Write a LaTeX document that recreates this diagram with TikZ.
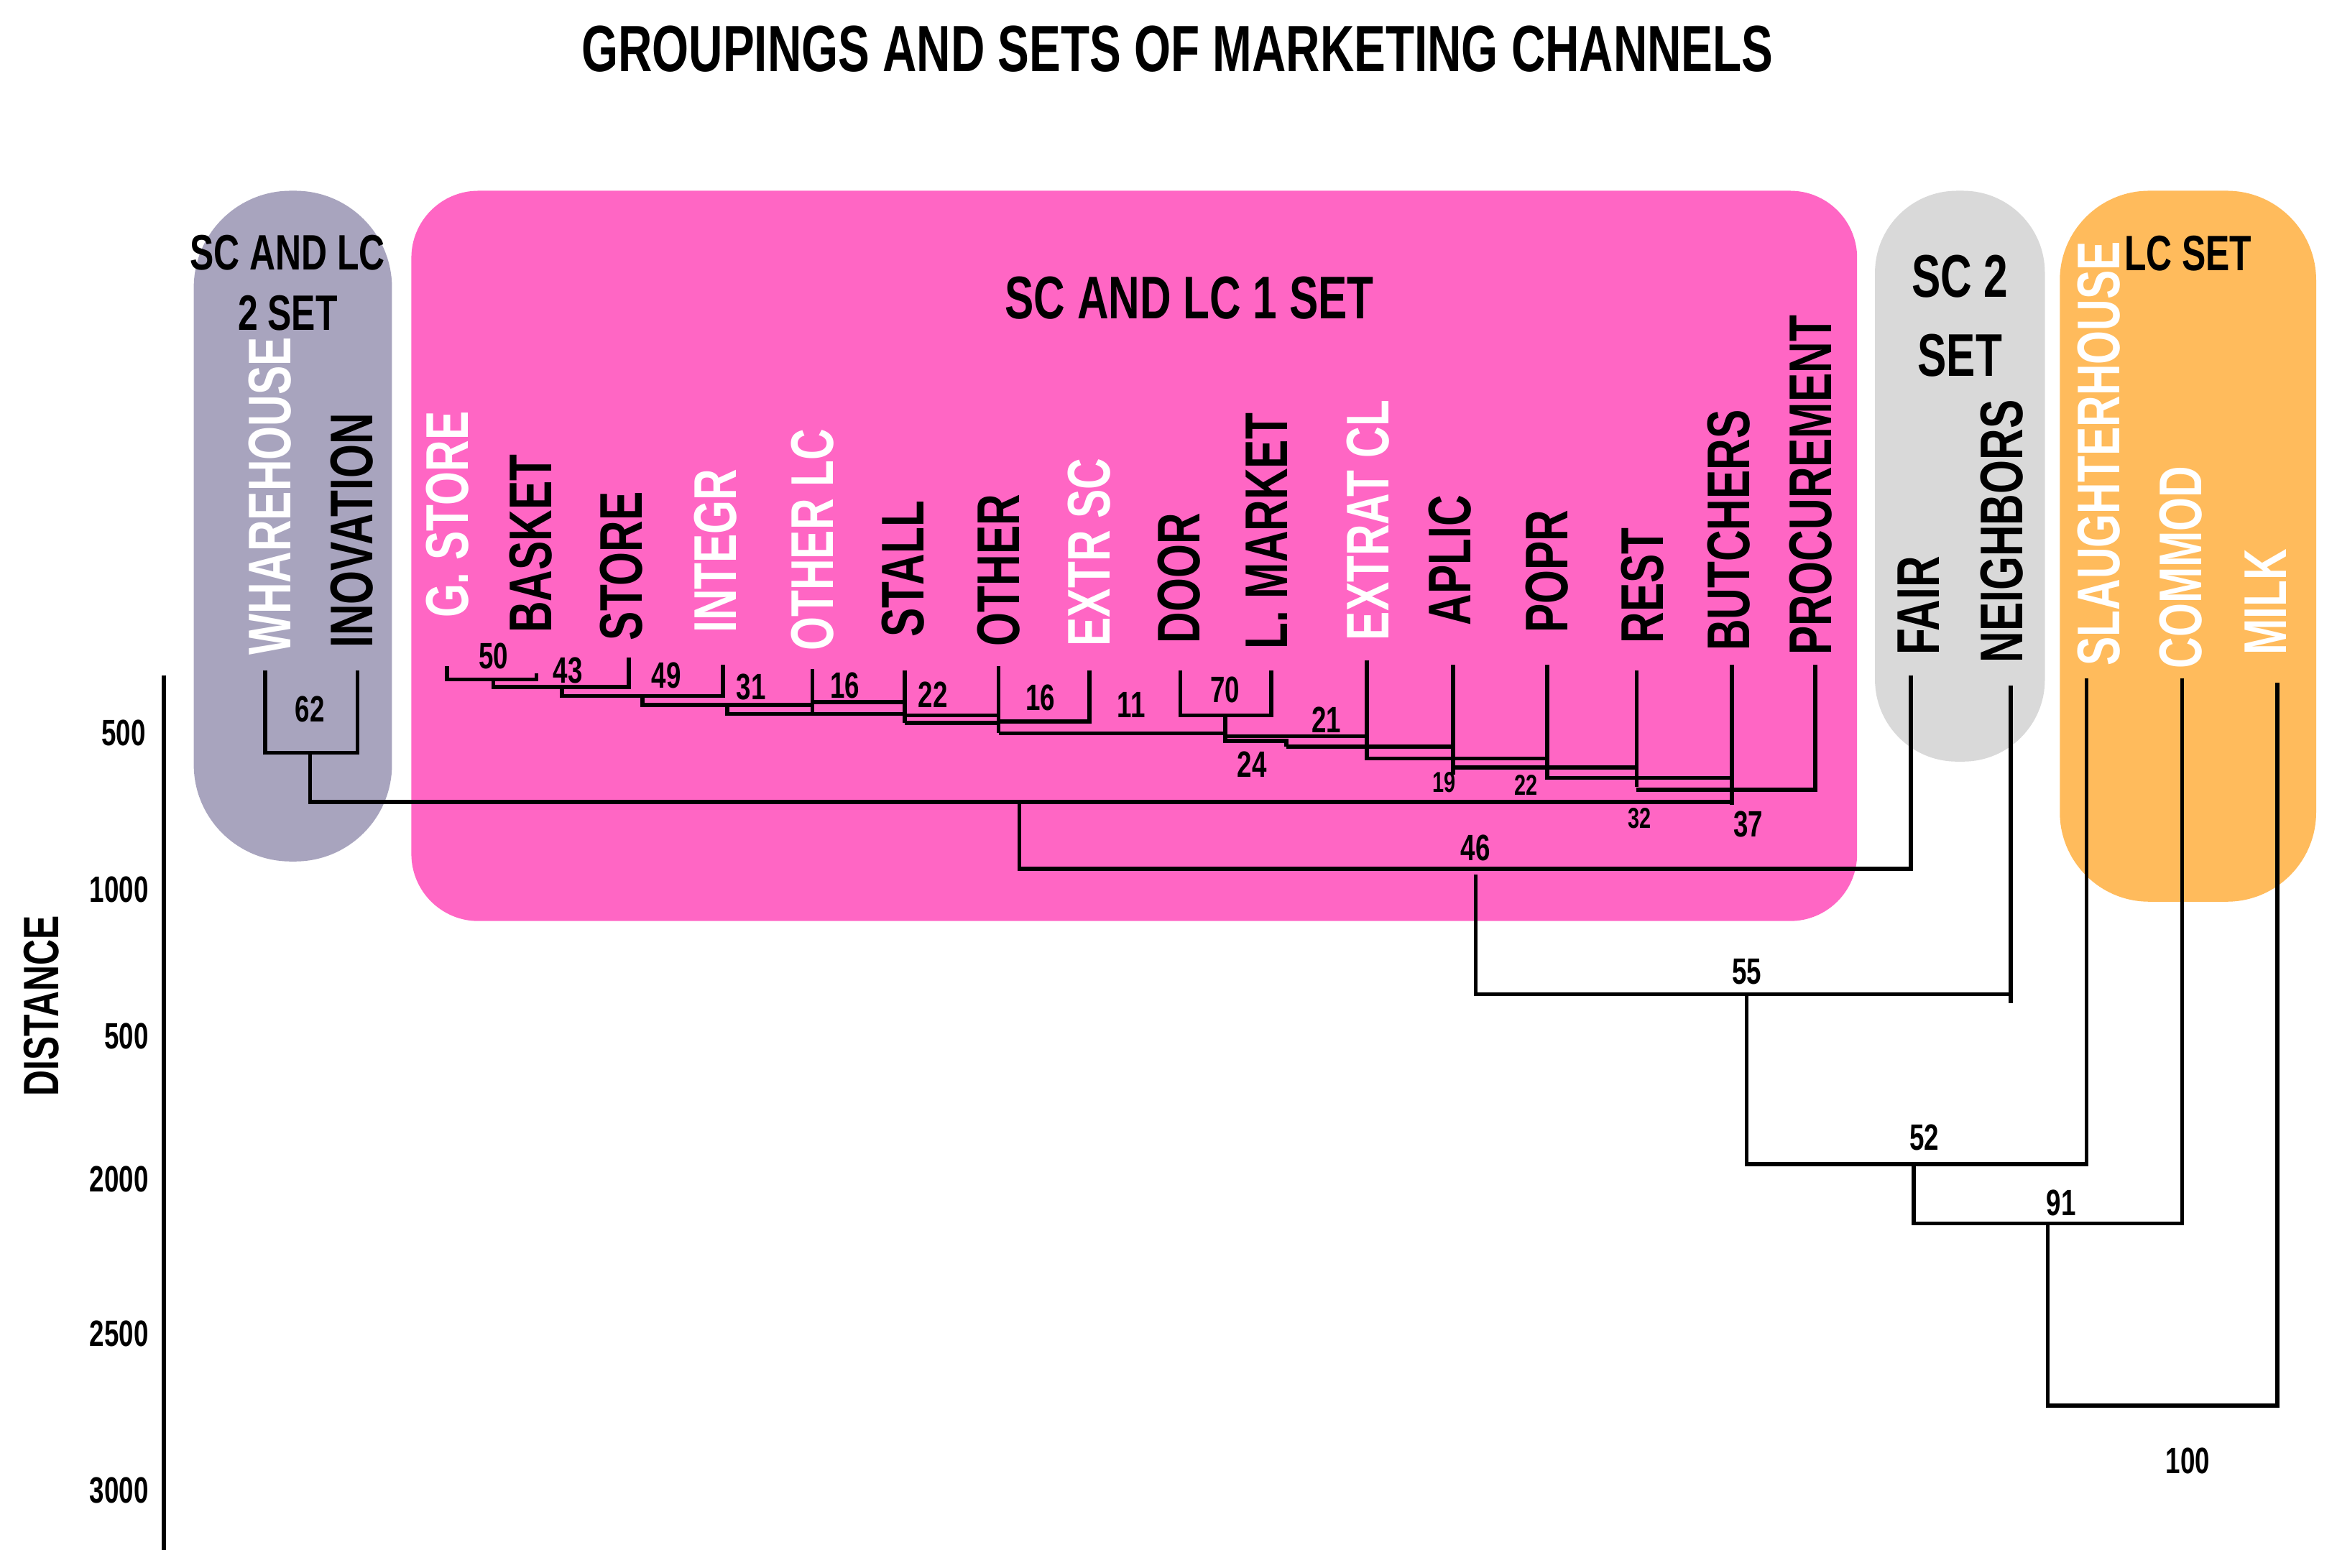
\documentclass[tikz,border=0pt]{standalone}
\usepackage{fontspec}
\setmainfont{Liberation Sans}[FakeStretch=0.72]
\begin{document}
\begin{tikzpicture}[x=0.2mm,y=-0.2mm,
  lf/.style={rotate=90,anchor=west,font=\bfseries\fontsize{23}{23}\selectfont,inner sep=0pt},
  wl/.style={lf,text=white},
  bl/.style={lf,text=black},
  num/.style={font=\bfseries\fontsize{14}{14}\selectfont,inner sep=0pt},
  sm/.style={font=\bfseries\fontsize{11}{11}\selectfont,inner sep=0pt},
  ttl/.style={font=\bfseries\fontsize{19}{23}\selectfont,align=center,inner sep=0pt},
  ax/.style={font=\bfseries\fontsize{14}{14}\selectfont,anchor=east,inner sep=0pt},
  dl/.style={line width=1.5pt}]
\definecolor{gpur}{HTML}{A8A4BE}\definecolor{pnk}{HTML}{FF66C4}
\definecolor{lgr}{HTML}{D9D9D9}\definecolor{org}{HTML}{FFBB5C}
\fill[white] (0,0) rectangle (1568,1052);
\useasboundingbox (0,0) rectangle (1568,1052);
\node[font=\bfseries\fontsize{25}{25}\selectfont] (title) at (790,33) {GROUPINGS AND SETS OF MARKETING CHANNELS};
\fill[gpur,rounded corners=13mm] (130,128) rectangle (263,578);
\fill[pnk,rounded corners=9mm] (276,128) rectangle (1246,618);
\fill[lgr,rounded corners=11mm] (1258,128) rectangle (1372,511);
\fill[org,rounded corners=12mm] (1382,128) rectangle (1554,605);
\node[ttl] (s1) at (193,190) {SC AND LC\\2 SET};
\node[ttl,font=\bfseries\fontsize{23}{23}\selectfont] (s2) at (798,200) {SC AND LC 1 SET};
\node[ttl,font=\bfseries\fontsize{23}{30}\selectfont] (s3) at (1315,212) {SC 2\\SET};
\node[ttl] (s4) at (1468,170) {LC SET};
% leaves
\node[wl] (wh) at (181,440) {WHAREHOUSE};
\node[bl] (in) at (236,435) {INOVATION};
\node[wl] (gs) at (300,415) {G. STORE};
\node[bl] (ba) at (356,425) {BASKET};
\node[bl] (st) at (417,430) {STORE};
\node[wl] (ig) at (480,425) {INTEGR};
\node[wl] (ol) at (545,437) {OTHER LC};
\node[bl] (sl) at (606,428) {STALL};
\node[bl] (ot) at (670,434) {OTHER};
\node[wl] (es) at (731,434) {EXTR SC};
\node[bl] (do) at (791,432) {DOOR};
\node[bl] (lm) at (850,436) {L. MARKET};
\node[wl] (ec) at (918,430) {EXTRAT CL};
\node[bl] (ap) at (973,420) {APLIC};
\node[bl] (po) at (1038,425) {POPR};
\node[bl] (re) at (1102,432) {REST};
\node[bl] (bu) at (1160,437) {BUTCHERS};
\node[bl] (pr) at (1215,440) {PROCUREMENT};
\node[bl] (fa) at (1287,440) {FAIR};
\node[bl] (ne) at (1343,445) {NEIGHBORS};
\node[wl] (sh) at (1408,447) {SLAUGHTERHOUSE};
\node[wl] (co) at (1463,449) {COMMOD};
\node[wl] (mi) at (1520,440) {MILK};
% axis
\coordinate (a1) at (110,453); \coordinate (a2) at (110,1040);
\draw[line width=1.5pt] (a1) -- (a2);
\node[ax] (t1) at (98,492) {500};
\node[ax] (t2) at (100,597) {1000};
\node[ax] (t3) at (100,695) {500};
\node[ax] (t4) at (100,791) {2000};
\node[ax] (t5) at (100,895) {2500};
\node[ax] (t6) at (100,1000) {3000};
\node[rotate=90,font=\bfseries\fontsize{19}{19}\selectfont] (dist) at (28,675) {DISTANCE};
% dendrogram
\draw[dl] (178,450) |- (240,505) -- (240,450);
\draw[dl] (208,505) -- (208,538) -- (1162,538);
\draw[dl] (300,447) |- (360,456) -- (360,452);
\draw[dl] (331,456) |- (422,461) -- (422,441);
\draw[dl] (377,461) |- (485,467) -- (485,446);
\draw[dl] (431,467) |- (545,473);
\draw[dl] (545,449) -- (545,479);
\draw[dl] (545,471) -- (607,471);
\draw[dl] (488,473) |- (607,479);
\draw[dl] (607,450) -- (607,485);
\draw[dl] (607,480) -- (670,480);
\draw[dl] (607,485) -- (670,485);
\draw[dl] (670,447) -- (670,492);
\draw[dl] (670,484) -- (731,484) -- (731,450);
\draw[dl] (670,492) -- (822,492);
\draw[dl] (792,450) |- (853,480) -- (853,450);
\draw[dl] (822,480) -- (822,497) -- (863,497) -- (863,501);
\draw[dl] (822,494) -- (917,494);
\draw[dl] (917,443) -- (917,510);
\draw[dl] (863,501) -- (975,501);
\draw[dl] (975,446) -- (975,520);
\draw[dl] (917,509) -- (1038,509);
\draw[dl] (1038,446) -- (1038,523);
\draw[dl] (975,515) -- (1098,515);
\draw[dl] (1098,450) -- (1098,528);
\draw[dl] (1038,522) -- (1162,522);
\draw[dl] (1162,446) -- (1162,540);
\draw[dl] (1098,530) -- (1218,530) -- (1218,446);
\draw[dl] (684,538) |- (1282,583) -- (1282,453);
\draw[dl] (990,587) |- (1349,667) -- (1349,460) (1349,667) -- (1349,673);
\draw[dl] (1172,667) |- (1400,781) -- (1400,455);
\draw[dl] (1284,781) |- (1464,821) -- (1464,455);
\draw[dl] (1374,821) |- (1528,943) -- (1528,458);
% merge labels
\node[num] (n62) at (208,476) {62};
\node[num] (n50) at (331,440) {50};
\node[num] (n43) at (381,450) {43};
\node[num] (n49) at (447,453) {49};
\node[num] (n31) at (504,461) {31};
\node[num] (n16a) at (567,460) {16};
\node[num] (n22a) at (626,466) {22};
\node[num] (n16b) at (698,468) {16};
\node[num] (n11) at (759,473) {11};
\node[num] (n70) at (822,463) {70};
\node[num] (n21) at (890,483) {21};
\node[num] (n24) at (840,513) {24};
\node[sm] (n19) at (969,525) {19};
\node[sm] (n22b) at (1024,527) {22};
\node[sm] (n32) at (1100,549) {32};
\node[num] (n37) at (1173,553) {37};
\node[num] (n46) at (990,569) {46};
\node[num] (n55) at (1172,652) {55};
\node[num] (n52) at (1291,763) {52};
\node[num] (n91) at (1383,807) {91};
\node[num] (n100) at (1468,980) {100};
\end{tikzpicture}
\end{document}
